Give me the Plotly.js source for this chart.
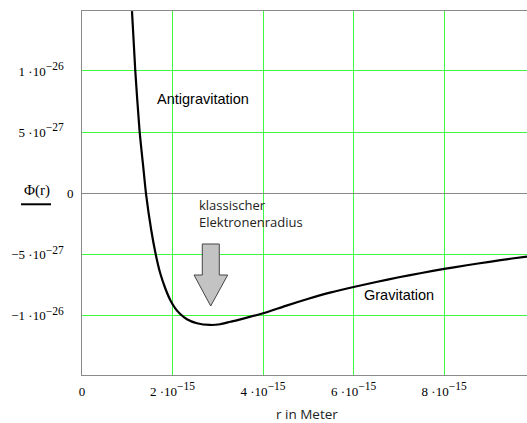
<!DOCTYPE html>
<html>
<head>
<meta charset="utf-8">
<script src="https://cdn.plot.ly/plotly-3.0.1.min.js"></script>
<style>html,body{margin:0;padding:0;background:#fff;}#chart{width:527px;height:423px;}</style>
</head>
<body>
<div id="chart"></div>
<script>
// Radius r in metres
var r_m = [1.104e-15, 1.177e-15, 1.272e-15, 1.360e-15, 1.413e-15, 1.529e-15, 1.627e-15, 1.728e-15,
           1.839e-15, 1.949e-15, 2.060e-15, 2.170e-15, 2.318e-15, 2.539e-15, 2.832e-15, 3.053e-15,
           3.274e-15, 3.5e-15, 4.0e-15, 4.5e-15, 5.0e-15, 5.5e-15, 6.0e-15, 6.5e-15,
           7.0e-15, 7.5e-15, 8.0e-15, 8.5e-15, 9.0e-15, 9.5e-15, 9.83e-15];
// Potential Phi(r)
var phi = [14.89e-27, 10.02e-27, 5.09e-27, 1.90e-27, 0, -3.00e-27, -4.96e-27, -6.54e-27,
           -7.76e-27, -8.72e-27, -9.40e-27, -9.86e-27, -10.29e-27, -10.62e-27, -10.76e-27, -10.70e-27,
           -10.50e-27, -10.30e-27, -9.80e-27, -9.20e-27, -8.62e-27, -8.10e-27, -7.66e-27, -7.25e-27,
           -6.86e-27, -6.51e-27, -6.18e-27, -5.88e-27, -5.60e-27, -5.33e-27, -5.17e-27];

var xTickVals = [0, 2e-15, 4e-15, 6e-15, 8e-15];
var xTickText = ["0", "2 ·10<sup><span style='font-size:11.5px'>−15</span></sup>",
                 "4 ·10<sup><span style='font-size:11.5px'>−15</span></sup>",
                 "6 ·10<sup><span style='font-size:11.5px'>−15</span></sup>",
                 "8 ·10<sup><span style='font-size:11.5px'>−15</span></sup>"];
var yTickVals = [-1e-26, -5e-27, 0, 5e-27, 1e-26];
var NB = "\u00A0\u00A0\u00A0";
var yTickText = ["−1 ·10<sup><span style='font-size:11.5px'>−26</span></sup>" + NB,
                 "−5 ·10<sup><span style='font-size:11.5px'>−27</span></sup>" + NB,
                 "0",
                 "5 ·10<sup><span style='font-size:11.5px'>−27</span></sup>" + NB,
                 "1 ·10<sup><span style='font-size:11.5px'>−26</span></sup>" + NB];
var xTitle = 'r in Meter';

var trace = {
  x: r_m, y: phi, type: 'scatter', mode: 'lines',
  line: {color: '#000000', width: 2.2, shape: 'spline', smoothing: 0.6},
  hoverinfo: 'skip'
};

var serif = 'Liberation Serif, Times New Roman, serif';
var sans = 'Liberation Sans, Arial, sans-serif';
var segoe = 'Open Sans, Noto Sans, sans-serif';

var layout = {
  width: 527, height: 423,
  margin: {l: 82, r: 0, t: 11, b: 48},
  paper_bgcolor: '#ffffff', plot_bgcolor: '#ffffff',
  showlegend: false,
  xaxis: {
    range: [0, 9.83e-15],
    tickmode: 'array', tickvals: xTickVals, ticktext: xTickText,
    showgrid: true, gridcolor: '#40f840', gridwidth: 1,
    zeroline: false,
    showline: true, mirror: true, linecolor: '#8a8a8a', linewidth: 1,
    ticks: '', ticklabelstandoff: 4,
    tickfont: {family: serif, size: 13, color: '#000'}
  },
  yaxis: {
    range: [-1.485e-26, 1.49e-26],
    tickmode: 'array', tickvals: yTickVals, ticktext: yTickText,
    showgrid: true, gridcolor: '#40f840', gridwidth: 1,
    zeroline: true, zerolinecolor: '#8a8a8a', zerolinewidth: 1,
    showline: true, mirror: false, linecolor: '#8a8a8a', linewidth: 1,
    ticks: '', ticklabelstandoff: 5,
    tickfont: {family: serif, size: 13, color: '#000'}
  },
  annotations: [
    {x: 0.5045, y: -0.106, xref: 'paper', yref: 'paper', text: xTitle, showarrow: false,
     xanchor: 'center', yanchor: 'middle', font: {family: segoe, size: 13.5, color: '#222'}},
    {x: -0.101, y: 0.5055, xref: 'paper', yref: 'paper', text: 'Φ(r)', showarrow: false,
     font: {family: serif, size: 15, color: '#000'}, xanchor: 'center', yanchor: 'middle'},
    {x: 1.62e-15, y: 7.68e-27, xref: 'x', yref: 'y', text: 'Antigravitation', showarrow: false,
     xanchor: 'left', yanchor: 'middle', font: {family: sans, size: 14.5, color: '#000'}},
    {x: 6.18e-15, y: -8.31e-27, xref: 'x', yref: 'y', text: 'Gravitation', showarrow: false,
     xanchor: 'left', yanchor: 'middle', font: {family: sans, size: 14.5, color: '#000'}},
    {x: 2.53e-15, y: -1.65e-27, xref: 'x', yref: 'y', text: 'klassischer<br>Elektronenradius', showarrow: false,
     xanchor: 'left', yanchor: 'middle', align: 'left',
     font: {family: segoe, size: 13, color: '#222'}}
  ],
  shapes: [
    {type: 'line', xref: 'paper', yref: 'paper', x0: -0.137, x1: -0.0697, y0: 0.469, y1: 0.469,
     line: {color: '#000', width: 2}},
    {type: 'path', xref: 'paper', yref: 'paper',
     path: 'M 0.2703 0.3599 L 0.3085 0.3599 L 0.3085 0.2747 L 0.3274 0.2747 L 0.2892 0.1896 L 0.2517 0.2747 L 0.2703 0.2747 Z',
     fillcolor: '#c3c3c3', line: {color: '#444', width: 1}}
  ]
};

Plotly.newPlot('chart', [trace], layout, {displayModeBar: false, staticPlot: true});
</script>
</body>
</html>
